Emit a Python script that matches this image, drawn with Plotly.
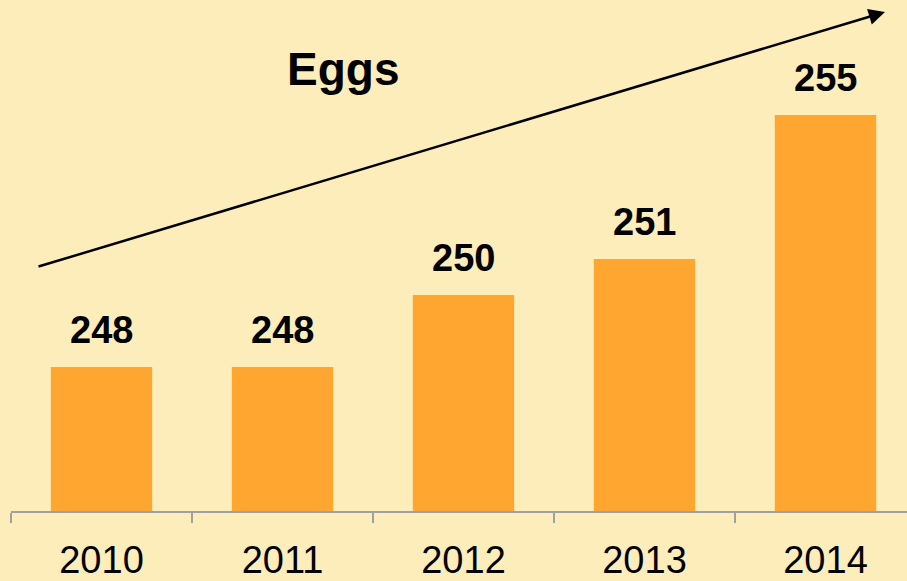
import plotly.graph_objects as go

years = ["2010", "2011", "2012", "2013", "2014"]
eggs = [248, 248, 250, 251, 255]
title_text = "Eggs"

BG = "#FCEDBB"
BAR = "#FEA630"

fig = go.Figure()
fig.add_trace(go.Bar(
    x=years, y=eggs, width=0.56,
    marker=dict(color=BAR, line=dict(width=0)),
    hoverinfo="skip",
))

for i, v in enumerate(eggs):
    fig.add_annotation(
        x=i, y=v, xref="x", yref="y", text=f"<b>{v}</b>",
        showarrow=False, yanchor="bottom", yshift=14,
        font=dict(family="Liberation Sans, Arial, sans-serif", size=38, color="#000000"),
    )

fig.add_annotation(
    x=(343 - 11) / 896, y=(511 - 69) / 506, xref="paper", yref="paper",
    text=f"<b>{title_text}</b>", showarrow=False, xanchor="center", yanchor="middle",
    font=dict(family="Liberation Sans, Arial, sans-serif", size=46, color="#000000"),
)

# trend arrow
fig.add_annotation(
    x=(885 - 11) / 896, y=(511 - 12) / 506, xref="paper", yref="paper",
    ax=37 - 885, ay=267 - 12, axref="pixel", ayref="pixel",
    text="", showarrow=True, arrowhead=2, arrowsize=1.3, arrowwidth=2.5,
    arrowcolor="#000000", standoff=0, startstandoff=0,
)

fig.update_layout(
    width=907, height=581,
    margin=dict(l=11, r=0, t=5, b=70),
    paper_bgcolor=BG, plot_bgcolor=BG,
    showlegend=False,
    xaxis=dict(
        type="category", range=[-0.5, -0.5 + 896 / 181],
        showline=True, linecolor="#A0A0A0", linewidth=1.5,
        ticks="outside", tickson="boundaries", ticklen=10, tickwidth=1.5, tickcolor="#A0A0A0",
        ticklabelstandoff=15,
        tickfont=dict(family="Liberation Sans, Arial, sans-serif", size=38, color="#000000"),
        showgrid=False, zeroline=False, fixedrange=True,
    ),
    yaxis=dict(
        range=[244, 244 + 506 / 36], visible=False, showgrid=False, zeroline=False,
    ),
)

fig.write_html(
    "out.html",
    config={"displayModeBar": False},
    post_script="document.body.style.margin='0';document.body.style.background='" + BG + "';",
)
